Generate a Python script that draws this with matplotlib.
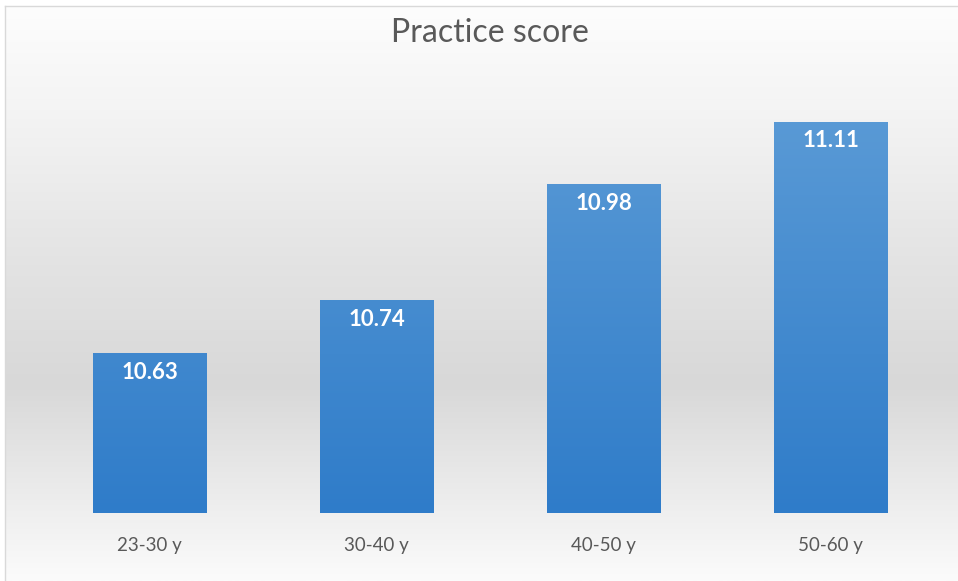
import numpy as np
import matplotlib
matplotlib.use("Agg")
import matplotlib.pyplot as plt
from matplotlib.colors import LinearSegmentedColormap

categories = ["23-30 y", "30-40 y", "40-50 y", "50-60 y"]
values = [10.63, 10.74, 10.98, 11.11]
title = "Practice score"

W, H = 958, 581
fig = plt.figure(figsize=(W / 100, H / 100), dpi=100)
fig.patch.set_facecolor("white")

# chart-area background with vertical gradient
bg = fig.add_axes([5 / W, 0, 1 - 5 / W, 1 - 6 / H])
bg_cmap = LinearSegmentedColormap.from_list(
    "bg",
    [(0.0, "#fdfdfd"), (0.18, "#f4f4f4"), (0.45, "#e3e3e3"), (0.66, "#d8d8d8"),
     (0.85, "#ececec"), (1.0, "#fbfbfb")])
grad = np.linspace(0, 1, 256).reshape(-1, 1)
bg.imshow(grad, cmap=bg_cmap, aspect="auto", extent=(0, 1, 1, 0), vmin=0, vmax=1)
bg.set_xlim(0, 1)
bg.set_ylim(1, 0)
bg.set_xticks([])
bg.set_yticks([])
for side in ["right", "bottom"]:
    bg.spines[side].set_visible(False)
for side in ["left", "top"]:
    bg.spines[side].set_color("#d9d9d9")
    bg.spines[side].set_linewidth(1.0)

ymin, ymax = 10.30, 11.20
left, right, base, top = 36, 944, 513, 78
ax = fig.add_axes([left / W, (H - base) / H, (right - left) / W, (base - top) / H])
ax.set_facecolor("none")
ax.set_ylim(ymin, ymax)
ax.set_xlim(-0.5, len(categories) - 0.5)

x = np.arange(len(categories))
heights = [v - ymin for v in values]
bars = ax.bar(x, heights, bottom=ymin, width=0.5, color="#4a8fd2", edgecolor="none", zorder=2)

bar_cmap = LinearSegmentedColormap.from_list("bar", ["#2f7cc9", "#5b9bd6"])
bgrad = np.linspace(0, 1, 256).reshape(-1, 1)
for b in bars:
    im = ax.imshow(bgrad, cmap=bar_cmap, aspect="auto", origin="lower",
                   extent=(b.get_x(), b.get_x() + b.get_width(), ymin, 11.15), zorder=3)
    im.set_clip_path(b)

for xi, v in zip(x, values):
    ax.annotate(f"{v:.2f}", xy=(xi, v), xytext=(0, -14), textcoords="offset points",
                ha="center", va="center", color="white", fontsize=16, fontweight="bold",
                family="Lato", zorder=5)

ax.set_xticks(x)
ax.set_xticklabels(categories, family="Lato", fontsize=13.5, color="#595959")
ax.tick_params(axis="x", length=0, pad=17)
ax.set_yticks([])
for s in ax.spines.values():
    s.set_visible(False)

fig.text(490 / W, 1 - 33 / H, title, ha="center", va="center", fontsize=23,
         color="#595959", family="Lato")

fig.savefig("out.png", dpi=100)
